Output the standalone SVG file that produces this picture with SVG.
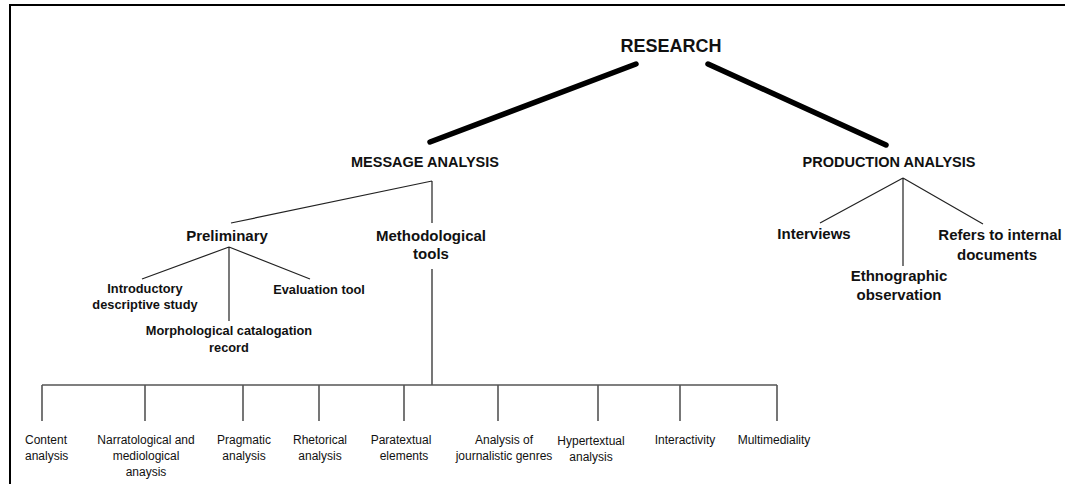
<svg xmlns="http://www.w3.org/2000/svg" width="1065" height="484" viewBox="0 0 1065 484">
<style>
text{font-family:"Liberation Sans",Arial,sans-serif;fill:#111;text-anchor:middle}
.h1{font-size:18px;font-weight:bold}
.h2{font-size:14.5px;font-weight:bold}
.h3{font-size:15px;font-weight:bold}
.h4{font-size:12.8px;font-weight:bold}
.lf{font-size:12px}
.thick{stroke:#000;stroke-width:5.5;stroke-linecap:round;fill:none}
.thin{stroke:#222;stroke-width:1.2;fill:none}
.bar{stroke:#555;stroke-width:1.6;fill:none}
</style>
<rect width="1065" height="484" fill="#fff"/>
<path d="M10,484 V5 H1065" stroke="#000" stroke-width="2" fill="none"/>
<g id="connectors">
<line class="thick" x1="636" y1="64" x2="430" y2="142"/>
<line class="thick" x1="708" y1="64" x2="886" y2="145"/>
<path class="thin" d="M432,181 L231,223 M432,181 V223"/>
<path class="thin" d="M229,247 L142,279 M229,247 V321 M229,247 L310,279"/>
<path class="thin" d="M903,178 L820,223 M903,178 V266 M903,178 L983,224"/>
<path class="bar" d="M432,269 V385 M42,385 H777 M42,385 V421 M145,385 V421 M243,385 V421 M319,385 V421 M404,385 V421 M498,385 V421 M598,385 V421 M680,385 V421 M777,385 V421"/>
</g>
<g id="research"><text class="h1" x="671" y="52">RESEARCH</text></g>
<g id="message"><text class="h2" x="425" y="167">MESSAGE ANALYSIS</text></g>
<g id="production"><text class="h2" x="889" y="167">PRODUCTION ANALYSIS</text></g>
<g id="preliminary"><text class="h3" x="227" y="241">Preliminary</text></g>
<g id="methodological"><text class="h3" x="431" y="241">Methodological</text><text class="h3" x="431" y="259">tools</text></g>
<g id="introductory"><text class="h4" x="145" y="293">Introductory</text><text class="h4" x="145" y="309">descriptive study</text></g>
<g id="evaluation"><text class="h4" x="319" y="294">Evaluation tool</text></g>
<g id="morphological"><text class="h4" x="229" y="335">Morphological catalogation</text><text class="h4" x="229" y="352">record</text></g>
<g id="interviews"><text class="h3" x="814" y="239">Interviews</text></g>
<g id="ethnographic"><text class="h3" x="899" y="281">Ethnographic</text><text class="h3" x="899" y="300">observation</text></g>
<g id="refers"><text class="h3" x="1000" y="240">Refers to internal</text><text class="h3" x="997" y="260">documents</text></g>
<g id="content"><text class="lf" x="25" y="444" style="text-anchor:start">Content</text><text class="lf" x="25" y="460" style="text-anchor:start">analysis</text></g>
<g id="narratological"><text class="lf" x="146" y="444">Narratological and</text><text class="lf" x="146" y="460">mediological</text><text class="lf" x="146" y="476">anaysis</text></g>
<g id="pragmatic"><text class="lf" x="244" y="444">Pragmatic</text><text class="lf" x="244" y="460">analysis</text></g>
<g id="rhetorical"><text class="lf" x="320" y="444">Rhetorical</text><text class="lf" x="320" y="460">analysis</text></g>
<g id="paratextual"><text class="lf" x="401" y="444">Paratextual</text><text class="lf" x="404" y="460">elements</text></g>
<g id="genres"><text class="lf" x="504" y="444">Analysis of</text><text class="lf" x="504" y="460">journalistic genres</text></g>
<g id="hypertextual"><text class="lf" x="591" y="445">Hypertextual</text><text class="lf" x="591" y="461">analysis</text></g>
<g id="interactivity"><text class="lf" x="685" y="444">Interactivity</text></g>
<g id="multimediality"><text class="lf" x="774" y="444">Multimediality</text></g>
</svg>
